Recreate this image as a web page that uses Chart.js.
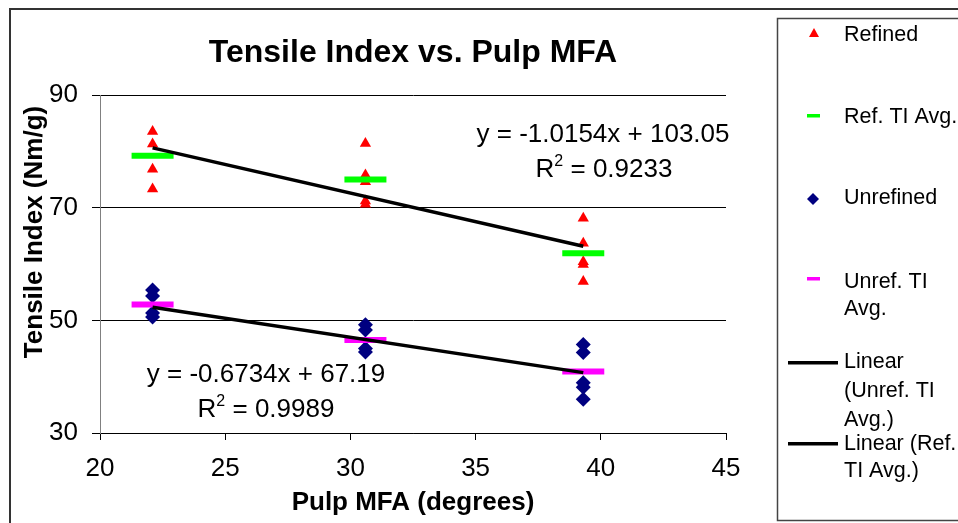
<!DOCTYPE html>
<html>
<head>
<meta charset="utf-8">
<script src="https://cdn.jsdelivr.net/npm/chart.js@4/dist/chart.umd.min.js"></script>
<style>
html,body{margin:0;padding:0;background:#fff;}
#wrap{position:relative;width:958px;height:523px;overflow:hidden;}
</style>
</head>
<body>
<div id="wrap"><canvas id="c" width="958" height="523"></canvas></div>
<script>
// ---- data ----
const refinedX   = [22.1, 22.1, 22.1, 22.1, 30.6, 30.6, 30.6, 30.6, 30.6, 39.3, 39.3, 39.3, 39.3, 39.3];
const refinedY   = [83.5, 81.3, 76.8, 73.3, 81.4, 75.8, 74.6, 71.2, 70.6, 68.1, 63.7, 60.4, 59.9, 56.9];
const unrefinedX = [22.1, 22.1, 22.1, 22.1, 30.6, 30.6, 30.6, 30.6, 39.3, 39.3, 39.3, 39.3, 39.3];
const unrefinedY = [55.4, 54.3, 51.3, 50.6, 49.2, 48.3, 45.0, 44.4, 45.7, 44.3, 38.9, 38.1, 36.0];
const avgX       = [22.1, 30.6, 39.3];
const refAvgY    = [79.2, 75.0, 61.9];
const unrefAvgY  = [52.8, 46.5, 40.9];
const trendX     = [22.1, 39.3];
const refTrendY  = [80.61, 63.14];
const unrefTrendY= [52.31, 40.72];
const xTicks     = [20, 25, 30, 35, 40, 45];
const yTicks     = [30, 50, 70, 90];
const legendLabels = ["Refined", "Ref. TI Avg.", "Unrefined", "Unref. TI Avg.", "Linear (Unref. TI Avg.)", "Linear (Ref. TI Avg.)"];

const FONT = '"Liberation Sans", Arial, sans-serif';
const pts = (xs, ys) => xs.map((x, i) => ({x, y: ys[i]}));

const decor = {
  id: 'decor',
  afterDraw(chart) {
    const ctx = chart.ctx;
    ctx.save();
    // outer border
    ctx.strokeStyle = '#333'; ctx.lineWidth = 2;
    ctx.strokeRect(10, 9, 1000, 600);
    // title
    ctx.fillStyle = '#000';
    ctx.font = 'bold 32px ' + FONT;
    ctx.textAlign = 'center'; ctx.textBaseline = 'alphabetic';
    ctx.fillText('Tensile Index vs. Pulp MFA', 413, 62);
    // x axis title
    ctx.font = 'bold 26px ' + FONT;
    ctx.fillText('Pulp MFA (degrees)', 413, 510);
    // y axis title
    ctx.save();
    ctx.translate(42, 232); ctx.rotate(-Math.PI/2);
    ctx.fillText('Tensile Index (Nm/g)', 0, 0);
    ctx.restore();
    // equations
    ctx.font = '26px ' + FONT;
    ctx.fillText('y = -1.0154x + 103.05', 603, 142);
    ctx.fillText('y = -0.6734x + 67.19', 266, 382);
    const r2 = (val, cx, by) => {
      ctx.font = '26px ' + FONT;
      const w1 = ctx.measureText('R').width;
      const w3 = ctx.measureText(' = ' + val).width;
      ctx.font = '16px ' + FONT;
      const w2 = ctx.measureText('2').width;
      const left = cx - (w1 + w2 + w3) / 2;
      ctx.textAlign = 'left';
      ctx.font = '26px ' + FONT;
      ctx.fillText('R', left, by);
      ctx.font = '16px ' + FONT;
      ctx.fillText('2', left + w1, by - 11);
      ctx.font = '26px ' + FONT;
      ctx.fillText(' = ' + val, left + w1 + w2, by);
      ctx.textAlign = 'center';
    };
    r2('0.9233', 604, 177);
    r2('0.9989', 266, 417);
    // legend box
    ctx.strokeStyle = '#444'; ctx.lineWidth = 1.5;
    ctx.strokeRect(777.5, 18.5, 300, 502);
    ctx.font = '21.5px ' + FONT;
    ctx.textAlign = 'left';
    ctx.fillStyle = '#000';
    const tx = 844;
    // Refined
    ctx.fillStyle = '#FF0000';
    ctx.beginPath(); ctx.moveTo(814, 28); ctx.lineTo(819, 37); ctx.lineTo(809, 37); ctx.closePath(); ctx.fill();
    ctx.fillStyle = '#000'; ctx.fillText(legendLabels[0], tx, 41);
    // Ref avg
    ctx.fillStyle = '#00FF00'; ctx.fillRect(807, 114, 13, 3.5);
    ctx.fillStyle = '#000'; ctx.fillText(legendLabels[1], tx, 123);
    // Unrefined
    ctx.fillStyle = '#000080';
    ctx.beginPath(); ctx.moveTo(813, 193); ctx.lineTo(819, 199); ctx.lineTo(813, 205); ctx.lineTo(807, 199); ctx.closePath(); ctx.fill();
    ctx.fillStyle = '#000'; ctx.fillText(legendLabels[2], tx, 204);
    // Unref avg
    ctx.fillStyle = '#FF00FF'; ctx.fillRect(807, 277, 13, 3.5);
    ctx.fillStyle = '#000';
    ctx.fillText('Unref. TI', tx, 288); ctx.fillText('Avg.', tx, 315);
    // Linear unref
    ctx.fillStyle = '#000'; ctx.fillRect(788, 361, 50, 3.5);
    ctx.fillText('Linear', tx, 368); ctx.fillText('(Unref. TI', tx, 397); ctx.fillText('Avg.)', tx, 426);
    // Linear ref
    ctx.fillRect(788, 442, 50, 3.5);
    ctx.fillText('Linear (Ref.', tx, 450); ctx.fillText('TI Avg.)', tx, 477);
    ctx.restore();
  }
};

new Chart(document.getElementById('c'), {
  type: 'scatter',
  data: {
    datasets: [
      { label: legendLabels[5], data: pts(trendX, refTrendY), showLine: true, borderColor: '#000', borderWidth: 3.5, pointRadius: 0, fill: false },
      { label: legendLabels[4], data: pts(trendX, unrefTrendY), showLine: true, borderColor: '#000', borderWidth: 3.5, pointRadius: 0, fill: false },
      { label: legendLabels[1], data: pts(avgX, refAvgY), pointStyle: 'line', pointRadius: 21, borderWidth: 6, borderColor: '#00FF00', backgroundColor: '#00FF00' },
      { label: legendLabels[3], data: pts(avgX, unrefAvgY), pointStyle: 'line', pointRadius: 21, borderWidth: 6, borderColor: '#FF00FF', backgroundColor: '#FF00FF' },
      { label: legendLabels[0], data: pts(refinedX, refinedY), pointStyle: 'triangle', pointRadius: 6.5, borderWidth: 0, backgroundColor: '#FF0000', borderColor: '#FF0000' },
      { label: legendLabels[2], data: pts(unrefinedX, unrefinedY), pointStyle: 'rectRot', pointRadius: 7.5, borderWidth: 0, backgroundColor: '#000080', borderColor: '#000080' }
    ]
  },
  options: {
    responsive: false,
    animation: false,
    devicePixelRatio: 1,
    layout: { padding: { left: 0, top: 95, right: 232, bottom: 0 } },
    plugins: { legend: { display: false }, title: { display: false }, tooltip: { enabled: false } },
    scales: {
      x: {
        type: 'linear', min: 20, max: 45,
        afterBuildTicks: s => { s.ticks = xTicks.map(v => ({value: v})); },
        afterFit: s => { s.height = 90; },
        ticks: { color: '#000', font: { size: 26, family: FONT }, padding: 13, maxRotation: 0 },
        grid: { drawOnChartArea: false, drawTicks: true, tickLength: 7, color: '#000', lineWidth: 1 },
        border: { color: '#000', width: 1 }
      },
      y: {
        type: 'linear', min: 30, max: 90,
        afterBuildTicks: s => { s.ticks = yTicks.map(v => ({value: v})); },
        afterFit: s => { s.width = 100; },
        ticks: { color: '#000', font: { size: 26, family: FONT }, padding: 14 },
        grid: { color: '#000', lineWidth: 1, tickLength: 8 },
        border: { color: '#808080', width: 1 }
      }
    }
  },
  plugins: [decor]
});
</script>
</body>
</html>
